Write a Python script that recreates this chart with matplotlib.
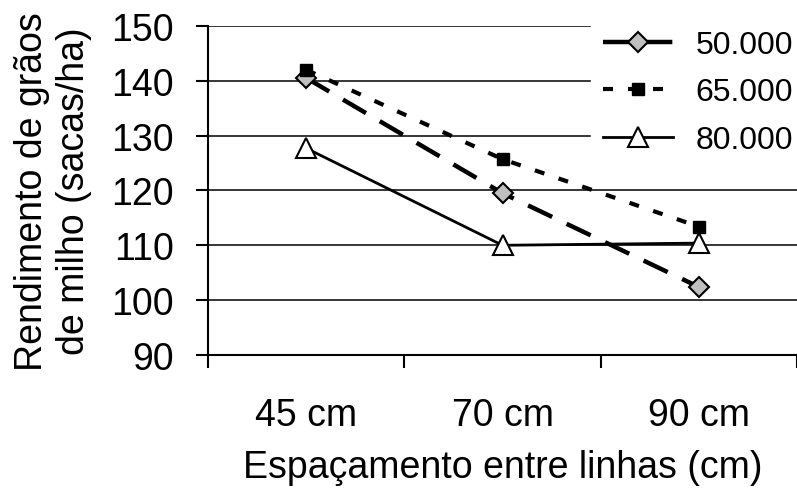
import matplotlib.pyplot as plt

plt.rcParams['font.family'] = ['Liberation Sans', 'DejaVu Sans']

# data
espacamento = ["45 cm", "70 cm", "90 cm"]
pop_50 = [140.5, 119.5, 102.4]
pop_65 = [142.0, 125.7, 113.4]
pop_80 = [127.7, 110.0, 110.4]

fig = plt.figure(figsize=(7.97, 4.89), dpi=100)
ax = fig.add_axes([0.261, 0.272, 0.739, 0.673])

x = range(len(espacamento))
ax.plot(x, pop_50, color="black", lw=3.2, dashes=(6, 3.6), marker="D", ms=10,
        mfc="#c0c0c0", mec="black", mew=1.5, label="50.000")
ax.plot(x, pop_65, color="black", lw=3, dashes=(2.4, 3.6), marker="s", ms=8.5,
        mfc="black", mec="black", label="65.000")
ax.plot(x, pop_80, color="black", lw=2, marker="^", ms=14.5,
        mfc="white", mec="black", mew=1.5, label="80.000")

ax.set_xlim(-0.5, 2.5)
ax.set_ylim(90, 150)
ax.set_yticks(range(90, 151, 10))
ax.set_xticks(list(x))
ax.set_xticklabels(espacamento)
ax.set_xticks([-0.5, 0.5, 1.5, 2.5], minor=True)
ax.tick_params(axis="x", which="major", length=0, labelsize=27, pad=30)
ax.tick_params(axis="x", which="minor", length=9, width=1.5, direction="out")
ax.tick_params(axis="y", length=8.5, width=1.5, labelsize=27, pad=16)

ax.grid(axis="y", color="black", lw=1.1)
ax.set_axisbelow(True)
for s in ["top", "right"]:
    ax.spines[s].set_visible(False)
ax.spines["left"].set_linewidth(1.5)
ax.spines["bottom"].set_linewidth(1.5)

ax.set_xlabel("Espaçamento entre linhas (cm)", fontsize=27)
ax.xaxis.set_label_coords(0.5, -0.285)
ax.set_ylabel("Rendimento de grãos\nde milho (sacas/ha)", fontsize=27, linespacing=1.2)
ax.yaxis.set_label_coords(-0.197, 0.5)

leg = ax.legend(loc="upper right", bbox_to_anchor=(1 + 7 / 797, 1 - 20 / 489),
                bbox_transform=fig.transFigure, frameon=True, fancybox=False,
                facecolor="white", edgecolor="white", framealpha=1,
                fontsize=23, handlelength=2.2, labelspacing=0.54,
                handletextpad=0.7, borderpad=0.35, borderaxespad=0)

fig.savefig("out.png", dpi=100, facecolor="white")
